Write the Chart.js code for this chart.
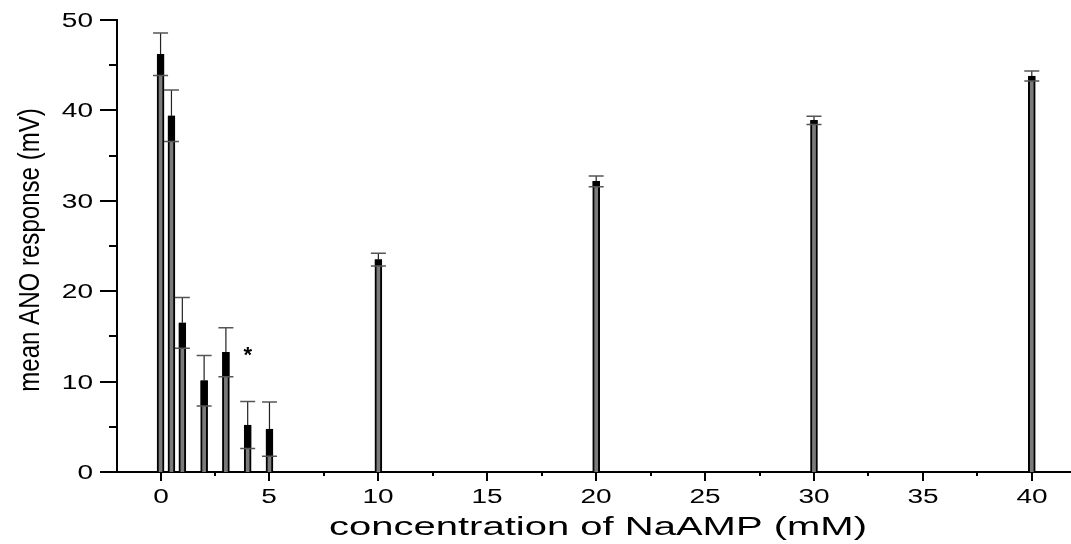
<!DOCTYPE html>
<html>
<head>
<meta charset="utf-8">
<script src="https://cdn.jsdelivr.net/npm/chart.js@4/dist/chart.umd.min.js"></script>
<style>
    html, body { margin: 0; padding: 0; background: #fff; }
    #wrap { width: 1071px; height: 544px; position: relative; }
</style>
</head>
<body>
<div id="wrap"><canvas id="chart"></canvas></div>
<script>
// NaAMP concentration (mM), mean response (mV) and its error
var concentrations = [0, 0.5, 1, 2, 3, 4, 5, 10, 20, 30, 40];
var meanResponse = [46.2, 39.4, 16.5, 10.1, 13.25, 5.2, 4.75, 23.5, 32.15, 38.9, 43.8];
var responseError = [2.35, 2.85, 2.8, 2.8, 2.7, 2.6, 3.0, 0.7, 0.6, 0.45, 0.55];

// significance marks: concentration and height of the mark
var starConcentration = [4];
var starHeight = [13.3];

var xTitle = "concentration of NaAMP (mM)";
var yTitle = "mean ANO response (mV)";

var tickFont = "20px 'Liberation Sans', Arial, sans-serif";

function stretchedText(ctx, text, x, y, sx, align, baseline) {
    ctx.save();
    ctx.translate(x, y);
    ctx.scale(sx, 1);
    ctx.textAlign = align;
    ctx.textBaseline = baseline;
    ctx.fillText(text, 0, 0);
    ctx.restore();
};

// ticks, tick labels and axis titles drawn by hand so the glyphs can be widened
var axisPlugin = {
    id: "axisDecor",
    afterDraw: function (chart) {
        var ctx = chart.ctx;
        var xs = chart.scales.x;
        var ys = chart.scales.y;
        var area = chart.chartArea;

        ctx.save();
        ctx.strokeStyle = "#000";
        ctx.fillStyle = "#000";
        ctx.lineWidth = 2;

        // y ticks: majors every 10, minors in between
        ctx.font = tickFont;
        for (var v = 0; v <= ys.max + 0.001; v += 5) {
            var py = Math.round(ys.getPixelForValue(v));
            var major = (v % 10 === 0);
            ctx.beginPath();
            ctx.moveTo(area.left - (major ? 17 : 8), py);
            ctx.lineTo(area.left, py);
            ctx.stroke();
            if (major) {
                stretchedText(ctx, String(v), 93, py + 1, 1.4, "right", "middle");
            }
        }

        // x ticks: majors every 5, minors every 2.5
        for (var c = 0; c <= xs.max + 0.001; c += 2.5) {
            var px = Math.round(xs.getPixelForValue(c));
            var majorX = (c % 5 === 0);
            ctx.beginPath();
            ctx.moveTo(px, area.bottom);
            ctx.lineTo(px, area.bottom + (majorX ? 9 : 4));
            ctx.stroke();
            if (majorX) {
                stretchedText(ctx, String(c), px, 487, 1.4, "center", "top");
            }
        }

        // axis titles
        ctx.font = "25px 'Liberation Sans', Arial, sans-serif";
        stretchedText(ctx, xTitle, 598, 528, 1.6, "center", "middle");

        ctx.save();
        ctx.translate(31, 250);
        ctx.rotate(-Math.PI / 2);
        ctx.font = "29px 'Liberation Sans', Arial, sans-serif";
        stretchedText(ctx, yTitle, 0, 0, 0.83, "center", "middle");
        ctx.restore();

        ctx.restore();
    }
};

// error bars: dark fill inside the bar down to the lower limit, thin whisker above
var errorBarPlugin = {
    id: "errorBars",
    afterDatasetsDraw: function (chart) {
        var ctx = chart.ctx;
        var ys = chart.scales.y;
        var meta = chart.getDatasetMeta(0);

        ctx.save();
        meta.data.forEach(function (bar, i) {
            var x = bar.x;
            var top = ys.getPixelForValue(meanResponse[i]);
            var hi = ys.getPixelForValue(meanResponse[i] + responseError[i]);
            var lo = ys.getPixelForValue(Math.max(0, meanResponse[i] - responseError[i]));
            var half = 7.5;

            ctx.fillStyle = "#000";
            ctx.fillRect(x - 3.5, top, 7, lo - top);

            ctx.strokeStyle = "#222";
            ctx.lineWidth = 1.2;
            ctx.beginPath();
            ctx.moveTo(x, top);
            ctx.lineTo(x, hi);
            ctx.stroke();

            ctx.strokeStyle = "#555";
            ctx.lineWidth = 1.5;
            ctx.beginPath();
            ctx.moveTo(x - half, hi);
            ctx.lineTo(x + half, hi);
            ctx.moveTo(x - half, lo);
            ctx.lineTo(x + half, lo);
            ctx.stroke();
        });

        ctx.fillStyle = "#000";
        ctx.font = "bold 22px 'Liberation Sans', Arial, sans-serif";
        ctx.textAlign = "center";
        ctx.textBaseline = "middle";
        starConcentration.forEach(function (c, i) {
            ctx.fillText("*", chart.scales.x.getPixelForValue(c), ys.getPixelForValue(starHeight[i]) + 4);
        });
        ctx.restore();
    }
};

var points = concentrations.map(function (c, i) {
    return { x: c, y: meanResponse[i] };
});

var ctx = document.getElementById("chart").getContext("2d");

new Chart(ctx, {
    type: "bar",
    data: {
        datasets: [{
            data: points,
            backgroundColor: "#7a7a7a",
            borderColor: "#000",
            borderWidth: 2,
            barThickness: 7
        }]
    },
    options: {
        responsive: true,
        maintainAspectRatio: false,
        animation: false,
        layout: { padding: { top: 20, right: 0, left: 0, bottom: 0 } },
        plugins: {
            legend: { display: false },
            tooltip: { enabled: false }
        },
        scales: {
            x: {
                type: "linear",
                min: -2,
                max: 41.8,
                offset: false,
                grid: { display: false, offset: false },
                border: { display: true, color: "#000", width: 2 },
                ticks: { display: false, stepSize: 2.5 },
                afterFit: function (scale) { scale.height = 72; }
            },
            y: {
                min: 0,
                max: 50,
                grid: { display: false },
                border: { display: true, color: "#000", width: 2 },
                ticks: { display: false, stepSize: 5 },
                afterFit: function (scale) { scale.width = 117; }
            }
        }
    },
    plugins: [axisPlugin, errorBarPlugin]
});
</script>
</body>
</html>
